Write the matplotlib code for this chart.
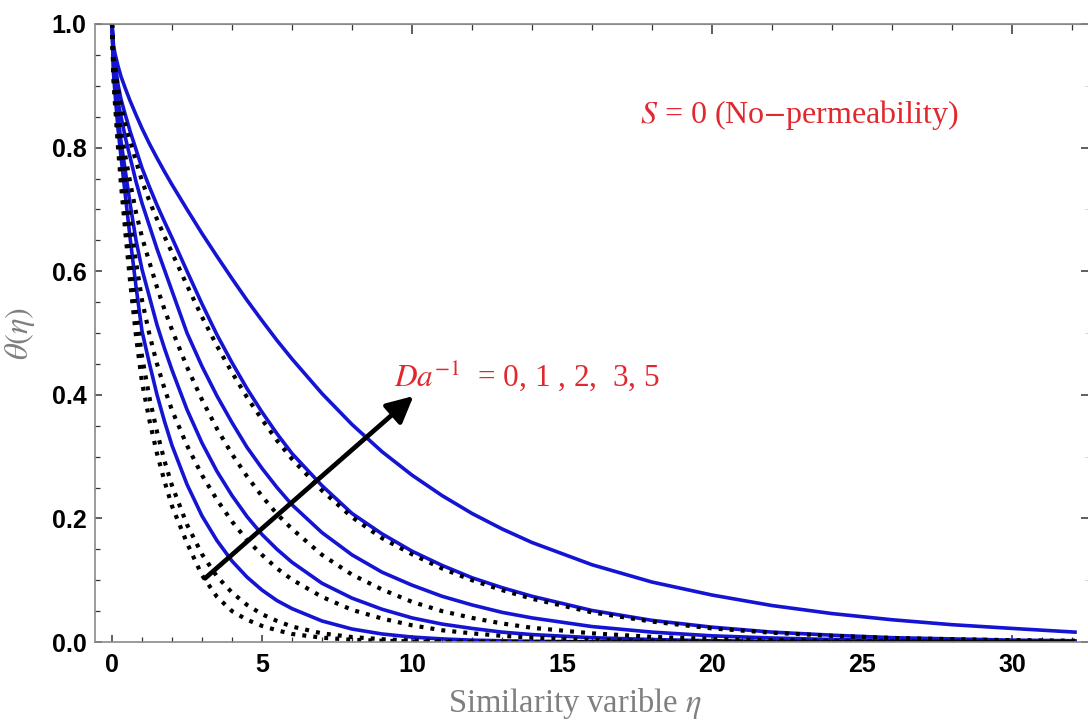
import numpy as np
import matplotlib
matplotlib.use("Agg")
import matplotlib.pyplot as plt
from matplotlib.ticker import MultipleLocator, FormatStrFormatter

plt.rcParams['mathtext.fontset'] = 'stix'

eta = [0, 0.05, 0.1, 0.2, 0.3, 0.45, 0.6, 0.8, 1.0, 1.25, 1.5, 1.75, 2.0, 2.5, 3.0,
       3.5, 4.0, 4.5, 5.0, 5.5, 6.0, 7.0, 8.0, 9.0, 10, 11, 12, 13, 14, 16, 18, 20,
       22, 24, 26, 28, 30, 32.1]

# solid blue curves (inner -> outer)
blue_1 = [1, .92, .888, .83, .785, .72, .655, .575, .503, .45, .40, .357, .318, .255,
          .204, .164, .131, .105, .084, .067, .054, .034, .021, .013, .008, .005, .003,
          .002, .001, 0, 0, 0, 0, 0, 0, 0, 0, 0]
blue_2 = [1, .93, .90, .85, .81, .76, .71, .65, .603, .558, .513, .475, .44, .376, .322,
          .276, .237, .203, .174, .15, .129, .095, .071, .053, .039, .029, .022, .016,
          .012, .007, .004, .002, .001, .0006, .0003, .0002, .0001, 0]
blue_3 = [1, .945, .925, .875, .85, .815, .785, .745, .71, .673, .636, .602, .568, .5,
          .446, .398, .355, .315, .281, .25, .222, .177, .141, .113, .092, .074, .06,
          .048, .039, .025, .016, .01, .0065, .004, .0026, .0017, .001, .0007]
blue_4 = [1, .955, .937, .902, .878, .852, .827, .797, .767, .736, .707, .68, .654, .6,
          .547, .497, .452, .41, .372, .337, .305, .253, .208, .175, .147, .124, .104,
          .088, .074, .051, .035, .024, .016, .011, .007, .005, .003, .002]
blue_5 = [1, .965, .952, .932, .915, .895, .876, .853, .831, .806, .783, .761, .74, .70,
          .661, .624, .588, .553, .52, .488, .458, .402, .352, .308, .27, .237, .208,
          .183, .161, .125, .097, .076, .059, .046, .036, .028, .022, .016]

# dotted black curves (inner -> outer)
dot_1 = [1, .91, .87, .80, .74, .66, .585, .495, .42, .358, .305, .26, .22, .16, .108,
         .073, .05, .036, .026, .019, .013, .007, .0035, .002, .001, 0, 0, 0, 0, 0, 0,
         0, 0, 0, 0, 0, 0, 0]
dot_2 = [1, .915, .878, .815, .76, .69, .62, .535, .462, .395, .34, .293, .253, .19,
         .142, .106, .08, .06, .045, .034, .025, .014, .008, .0045, .0025, .0014, .0008,
         .0004, .0002, 0, 0, 0, 0, 0, 0, 0, 0, 0]
dot_3 = [1, .925, .895, .84, .80, .74, .685, .615, .553, .497, .45, .41, .375, .318,
         .27, .23, .195, .165, .141, .119, .101, .073, .052, .038, .027, .019, .014,
         .01, .007, .0036, .0019, .001, .0005, 0, 0, 0, 0, 0]
dot_4 = [1, .935, .91, .86, .825, .785, .745, .695, .655, .614, .574, .538, .505, .445,
         .392, .345, .304, .268, .236, .207, .183, .141, .109, .085, .065, .05, .039,
         .03, .023, .014, .0083, .005, .003, .0018, .001, .0006, .0004, .0002]
dot_5 = [1, .95, .932, .895, .868, .837, .811, .778, .746, .713, .684, .656, .63, .577,
         .526, .479, .436, .396, .36, .326, .296, .245, .202, .168, .142, .119, .1,
         .084, .07, .048, .033, .022, .015, .01, .0065, .0045, .003, .002]

blues = [blue_1, blue_2, blue_3, blue_4, blue_5]
dots = [dot_1, dot_2, dot_3, dot_4, dot_5]

fig = plt.figure(figsize=(10.88, 7.27), dpi=100)
ax = fig.add_axes([95 / 1088, 85 / 727, 994 / 1088, 618 / 727])

for b in blues:
    ax.plot(eta, b, color='#1414d2', lw=2.6)
for d in dots:
    ax.plot(eta, d, color='black', lw=3.0, linestyle=(0, (0.95, 1.7)))

ax.set_xlim(-0.567, 32.567)
ax.set_ylim(0, 1)

# arrow + annotations
ax.annotate('', xy=(10.05, 0.398), xytext=(3.1, 0.103),
            arrowprops=dict(arrowstyle='-|>', color='black', lw=3.4,
                            mutation_scale=40, shrinkA=0, shrinkB=0))
ax.text(9.4, 0.413, r'$Da^{-1}$  = 0, 1 , 2,  3, 5', color='#e0282e',
        fontsize=22.5, family='Liberation Serif', va='baseline')
ax.text(17.6, 0.840, r'$S$ = 0 (No$-$permeability)', color='#e0282e',
        fontsize=23, family='Liberation Serif', va='baseline')

# frame styling
for sp in ax.spines.values():
    sp.set_color('#8a8a8a')
    sp.set_linewidth(1.2)

ax.xaxis.set_major_locator(MultipleLocator(5))
ax.xaxis.set_minor_locator(MultipleLocator(1))
ax.yaxis.set_major_locator(MultipleLocator(0.2))
ax.yaxis.set_minor_locator(MultipleLocator(0.05))
ax.yaxis.set_major_formatter(FormatStrFormatter('%.1f'))
ax.tick_params(which='both', direction='in', top=False, right=False, color='#333333')
ax.tick_params(which='major', length=5, width=1.1, pad=6)
ax.tick_params(which='minor', length=3.5, width=0.9)
ax.tick_params(axis='x', pad=8)

for lab in ax.get_xticklabels() + ax.get_yticklabels():
    lab.set_fontfamily('Liberation Sans')
    lab.set_fontweight('bold')
    lab.set_fontsize(18)

# unlabeled top / right frame ticks
top = ax.secondary_xaxis('top')
top.xaxis.set_major_locator(MultipleLocator(10))
top.xaxis.set_minor_locator(MultipleLocator(2))
top.tick_params(which='both', direction='in', labeltop=False, color='#333333')
top.tick_params(which='major', length=7, width=1.1)
top.tick_params(which='minor', length=4, width=0.9)
top.spines['top'].set_color('#8a8a8a')

right = ax.secondary_yaxis('right')
right.yaxis.set_major_locator(MultipleLocator(0.2))
right.yaxis.set_minor_locator(MultipleLocator(0.1))
right.tick_params(which='both', direction='in', labelright=False, color='#333333')
right.tick_params(which='major', length=6, width=1.1)
right.tick_params(which='minor', length=3, width=0.6, color='#cccccc')

ax.set_xlabel(r'Similarity varible $\eta$', color='#7f7f7f', fontsize=23.5,
              family='Liberation Serif')
ax.xaxis.set_label_coords(0.483, -0.072)
ax.set_ylabel(r'$\theta(\eta)$', color='#7f7f7f', fontsize=23.5,
              family='Liberation Serif')
ax.yaxis.set_label_coords(-0.058, 0.5)

fig.savefig('out.png', dpi=100)
